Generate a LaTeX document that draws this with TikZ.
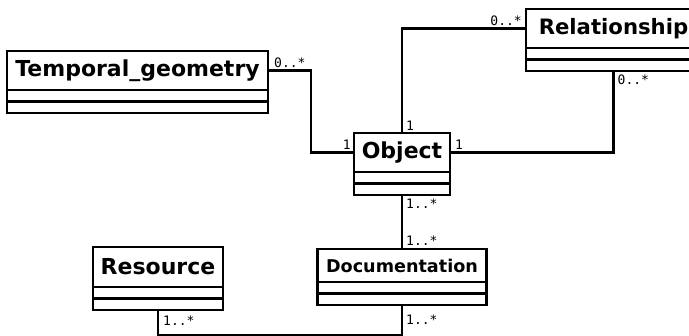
\documentclass[tikz,border=0pt]{standalone}
\usepackage{fontspec}
\setmainfont{DejaVu Sans}
\setmonofont{DejaVu Sans Mono}
\usetikzlibrary{positioning}
\tikzset{
  classname/.style={draw, line width=2.2pt, inner sep=0pt, outer sep=0pt, minimum height=39pt,
    font=\fontsize{22}{24}\selectfont\bfseries},
  compart/.style={draw, line width=2.2pt, inner sep=0pt, outer sep=0pt, minimum height=11.5pt},
  mult/.style={inner sep=0pt, font=\fontsize{13}{15}\selectfont\ttfamily},
  assoc/.style={line width=2.2pt},
}

\begin{document}
\begin{tikzpicture}[x=1pt,y=-1pt]
            \useasboundingbox (0,0) rectangle (689,336);
            \clip (0,0) rectangle (689,336);
            % classes
            \node[classname, minimum width=261pt, anchor=north west] (tg) at (7,51) {Temporal\_geometry};
            \node[compart, minimum width=261pt, below=0pt of tg] (tg-a) {};
            \node[compart, minimum width=261pt, below=0pt of tg-a] (tg-b) {};
            \node[classname, minimum width=175pt, font=\fontsize{21.2}{24}\selectfont\bfseries, anchor=north west] (rel) at (526,9) {Relationship};
            \node[compart, minimum width=175pt, below=0pt of rel] (rel-a) {};
            \node[compart, minimum width=175pt, below=0pt of rel-a] (rel-b) {};
            \node[classname, minimum width=96pt, anchor=north west] (obj) at (354,133) {Object};
            \node[compart, minimum width=96pt, below=0pt of obj] (obj-a) {};
            \node[compart, minimum width=96pt, below=0pt of obj-a] (obj-b) {};
            \node[classname, minimum width=169pt, minimum height=33pt, font=\fontsize{17.6}{20}\selectfont\bfseries, anchor=north west] (doc) at (317.5,249) {Documentation};
            \node[compart, minimum width=169pt, below=0pt of doc] (doc-a) {};
            \node[compart, minimum width=169pt, below=0pt of doc-a] (doc-b) {};
            \node[classname, minimum width=130pt, minimum height=40pt, anchor=north west] (res) at (93,247) {Resource};
            \node[compart, minimum width=130pt, below=0pt of res] (res-a) {};
            \node[compart, minimum width=130pt, below=0pt of res-a] (res-b) {};
            % associations
            \coordinate (bottom) at (0,335);
            \draw[assoc] (tg.east) -- ++(43,0) |- (obj.west);
            \draw[assoc] (obj.north) |- (rel.west);
            \draw[assoc] (obj.east) -| (rel-b.south);
            \draw[assoc] (obj-b.south) -- (doc.north);
            \draw[assoc] (res-b.south) -- (res-b.south |- bottom) -| (doc-b.south);
            % multiplicities
            \node[mult, above right=3pt and 6pt of tg.east] (m-tg) {0..*};
            \node[mult, above left=2.5pt and 3pt of obj.west] (m-obj-w) {1};
            \node[mult, above left=2.5pt and 4pt of rel.west] (m-rel-w) {0..*};
            \node[mult, above right=2pt and 4pt of obj.north] (m-obj-n) {1};
            \node[mult, above right=2.5pt and 5pt of obj.east] (m-obj-e) {1};
            \node[mult, below right=4pt and 4pt of rel-b.south] (m-rel-s) {0..*};
            \node[mult, below right=4pt and 4pt of obj-b.south] (m-obj-s) {1..*};
            \node[mult, above right=3pt and 4pt of doc.north] (m-doc-n) {1..*};
            \node[mult, below right=6pt and 5pt of res-b.south] (m-res-s) {1..*};
            \node[mult, below right=10pt and 4pt of doc-b.south] (m-doc-s) {1..*};
        \end{tikzpicture}
\end{document}
